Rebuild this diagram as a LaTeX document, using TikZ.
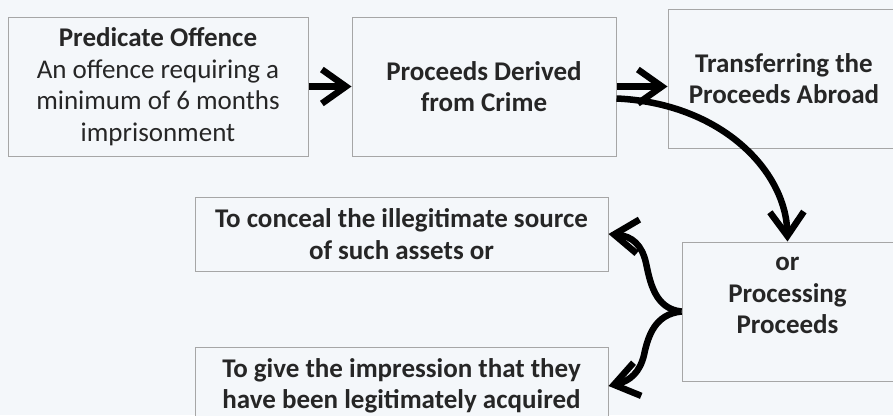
\documentclass[tikz,border=0pt]{standalone}
\usepackage{fontspec}
\setmainfont{Carlito}
\usetikzlibrary{arrows.meta,calc}
\definecolor{bgc}{HTML}{F4F7FA}
\definecolor{edgec}{HTML}{A6A6A6}
\definecolor{txtc}{HTML}{262626}
\tikzset{
  boxn/.style={draw=edgec, line width=1pt, fill=bgc, text=txtc, align=center, inner sep=0pt,
    font=\fontsize{27}{31.5}\selectfont},
  conn/.style={line width=6.5pt, black, -{Straight Barb[length=24pt,width=34pt]}},
}
\begin{document}
\begin{tikzpicture}[x=1pt,y=-1pt]
\fill[bgc] (0,0) rectangle (893,415);
\useasboundingbox (0,0) rectangle (893,415);
\clip (0,0) rectangle (893,415);
\node[boxn, minimum width=300pt, minimum height=139pt] (b1) at (158,86.5)
  {\textbf{Predicate Offence}\\An offence requiring a\\minimum of 6 months\\imprisonment};
\node[boxn, minimum width=264pt, minimum height=139pt] (b2) at (484,86.5)
  {\textbf{Proceeds Derived}\\\textbf{from Crime}};
\node[boxn, minimum width=232pt, minimum height=139pt] (b3) at (784,78.5)
  {\textbf{Transferring the}\\\textbf{Proceeds Abroad}};
\node[boxn, minimum width=413pt, minimum height=74pt] (b4) at (401.5,234)
  {\textbf{To conceal the illegitimate source}\\\textbf{of such assets or}};
\node[boxn, minimum width=413pt, minimum height=78pt] (b5) at (401.5,386)
  {\textbf{To give the impression that they}\\\textbf{have been legitimately acquired}};
\node[boxn, minimum width=211pt, minimum height=139pt] (b6) at (787.5,311.5)
  {\textbf{or}\\\textbf{Processing}\\\textbf{Proceeds}\\\mbox{}};
\draw[conn] (b1.east) -- (b2.west);
\draw[conn] (b2.east) -- (b2.east -| b3.west);
\draw[conn] ([yshift=-12pt]b2.east) .. controls (720,103) and (786,170) .. (b6.north);
\draw[conn] (b6.west) .. controls (655,309) and (650,282) .. (646,263)
  .. controls (642,245) and (632,236) .. (b4.east);
\draw[conn] (b6.west) .. controls (655,314) and (648,336) .. (644,355)
  .. controls (640,372) and (630,381) .. (b5.east);
\end{tikzpicture}
\end{document}
